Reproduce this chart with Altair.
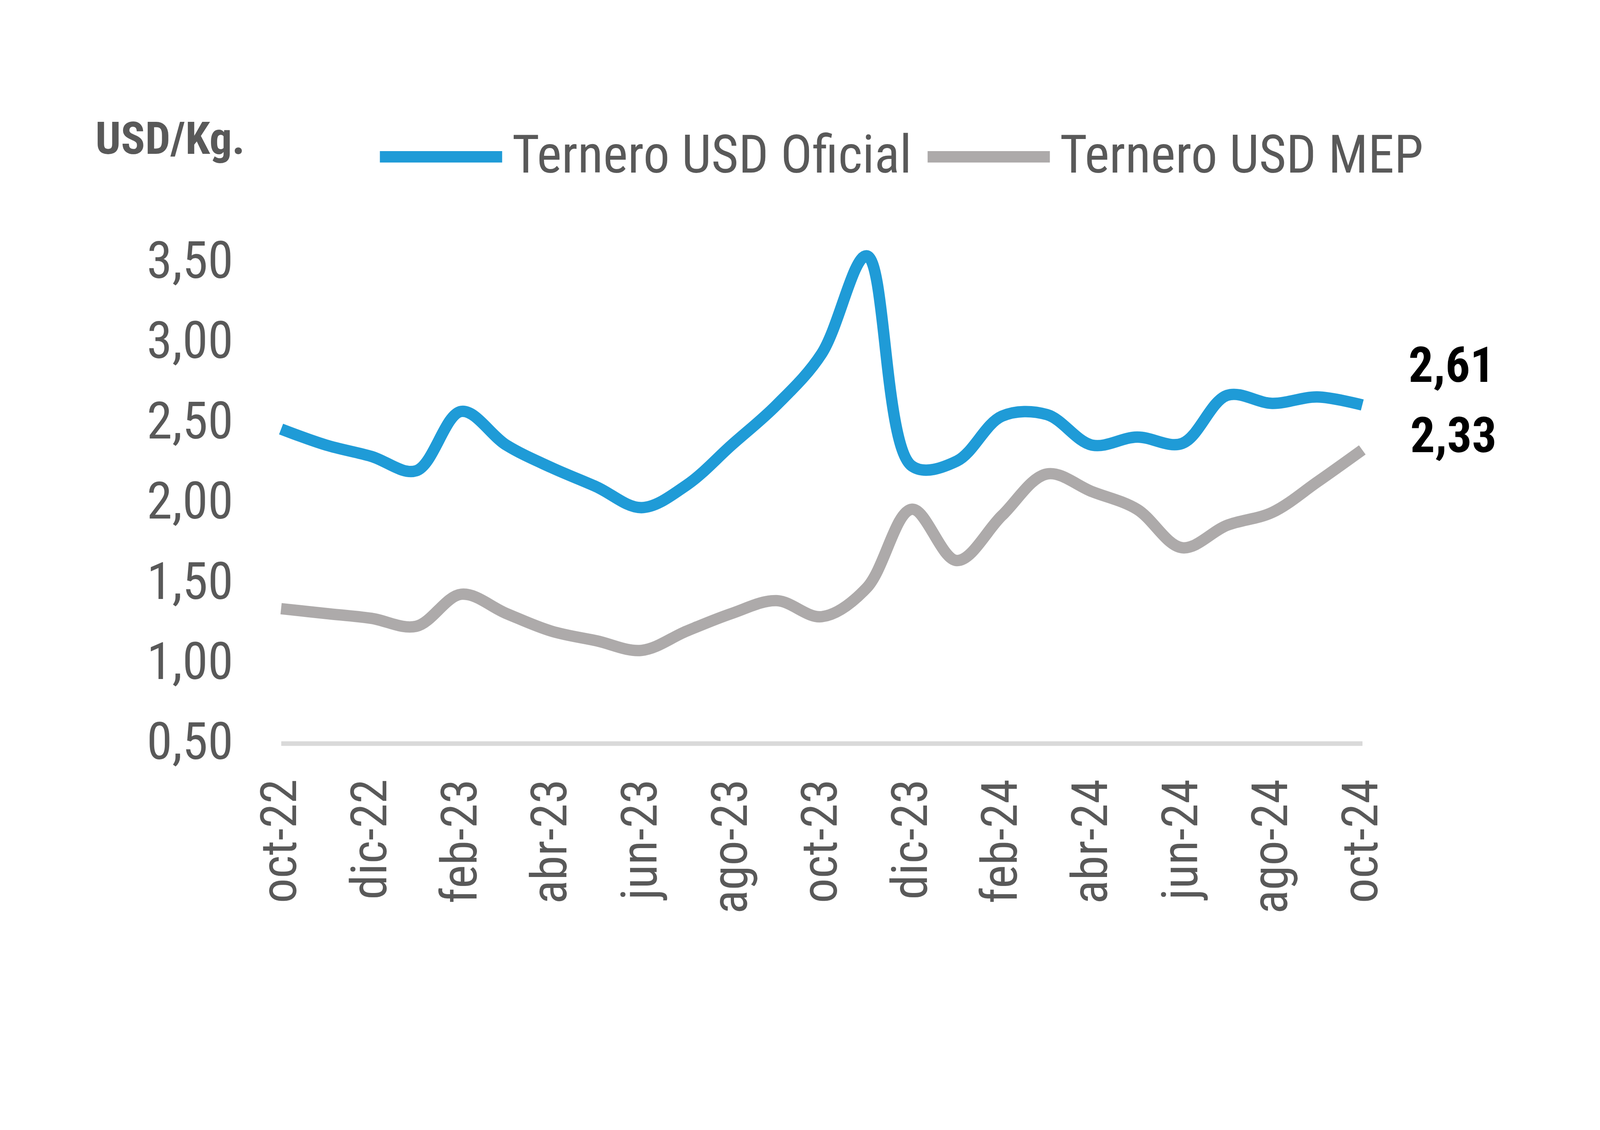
import altair as alt
import pandas as pd

months = ["oct-22", "nov-22", "dic-22", "ene-23", "feb-23", "mar-23", "abr-23", "may-23",
          "jun-23", "jul-23", "ago-23", "sep-23", "oct-23", "nov-23", "dic-23", "ene-24",
          "feb-24", "mar-24", "abr-24", "may-24", "jun-24", "jul-24", "ago-24", "sep-24", "oct-24"]
oficial = [2.46, 2.36, 2.29, 2.20, 2.57, 2.36, 2.22, 2.10, 1.97, 2.11, 2.36, 2.61, 2.93,
           3.54, 2.23, 2.26, 2.54, 2.55, 2.36, 2.41, 2.37, 2.67, 2.62, 2.66, 2.61]
mep = [1.34, 1.31, 1.28, 1.23, 1.43, 1.31, 1.20, 1.14, 1.08, 1.20, 1.31, 1.39, 1.29,
       1.47, 1.96, 1.64, 1.92, 2.18, 2.07, 1.96, 1.72, 1.86, 1.94, 2.13, 2.33]
series_names = ["Ternero USD Oficial", "Ternero USD MEP"]
series_colors = ["#1F9BD7", "#ADAAAA"]
x_label_values = months[::2]
y_tick_values = [0.5, 1.0, 1.5, 2.0, 2.5, 3.0, 3.5]

rows = []
for i, m in enumerate(months):
    rows.append({"mes": m, "serie": series_names[0], "valor": oficial[i], "idx": i})
    rows.append({"mes": m, "serie": series_names[1], "valor": mep[i], "idx": i})
df = pd.DataFrame(rows)

FONT = "Liberation Sans Narrow, Roboto Condensed, Arial Narrow, sans-serif"
TXT = "#595959"

x_enc = alt.X("mes:O", sort=months,
              scale=alt.Scale(type="point", padding=0),
              axis=alt.Axis(values=x_label_values, labelAngle=-90, labelAlign="right",
                            labelBaseline="middle", labelPadding=100, ticks=False,
                            domainColor="#D9D9D9", domainWidth=13, labelFontSize=140,
                            labelColor=TXT, title=None, grid=False, labelLimit=0))
y_enc = alt.Y("valor:Q", scale=alt.Scale(domain=[0.5, 4.0], nice=False, zero=False),
              axis=alt.Axis(values=y_tick_values, labelExpr="replace(format(datum.value, '.2f'), '.', ',')",
                            ticks=False, domain=False, grid=False, labelPadding=135,
                            labelFontSize=145, labelColor=TXT, labelLimit=0,
                            title="USD/Kg.", titleAngle=0, titleAlign="left",
                            titleBaseline="alphabetic", titleX=-523, titleY=-80,
                            titleFontSize=126, titleFontWeight="bold", titleColor=TXT))

lines = alt.Chart(df).mark_line(interpolate="catmull-rom", strokeWidth=32, strokeCap="butt",
                                strokeJoin="round", clip=False).encode(
    x=x_enc, y=y_enc,
    color=alt.Color("serie:N", scale=alt.Scale(domain=series_names, range=series_colors),
                    sort=series_names,
                    legend=alt.Legend(title=None, orient="none", legendX=262, legendY=-259,
                                      direction="horizontal", symbolType="stroke",
                                      symbolSize=118336, symbolStrokeWidth=32,
                                      labelFontSize=148, labelColor=TXT, labelOffset=12,
                                      columnPadding=-20, padding=0, labelLimit=0)),
    order="idx:Q"
)

last_df = df[df["mes"] == months[-1]]
lab_of = alt.Chart(last_df).transform_filter(
    alt.datum.serie == series_names[0]
).transform_calculate(
    txt="replace(format(datum.valor, '.2f'), '.', ',')"
).mark_text(align="left", baseline="middle", dx=130, dy=-106, fontSize=138,
            fontWeight="bold", color="#000000").encode(
    x=alt.X("mes:O", sort=months), y="valor:Q", text="txt:N")

lab_mep = alt.Chart(last_df).transform_filter(
    alt.datum.serie == series_names[1]
).transform_calculate(
    txt="replace(format(datum.valor, '.2f'), '.', ',')"
).mark_text(align="left", baseline="middle", dx=135, dy=-35, fontSize=138,
            fontWeight="bold", color="#000000").encode(
    x=alt.X("mes:O", sort=months), y="valor:Q", text="txt:N")

chart = alt.layer(lines, lab_of, lab_mep).properties(
    width=3042, height=1580,
    autosize=alt.AutoSizeParams(type="none"),
    padding={"left": 782, "top": 375, "right": 660, "bottom": 643},
    background="white"
).configure(font=FONT).configure_view(stroke=None)

chart.save("out.html", embed_options={"renderer": "svg", "actions": False})
